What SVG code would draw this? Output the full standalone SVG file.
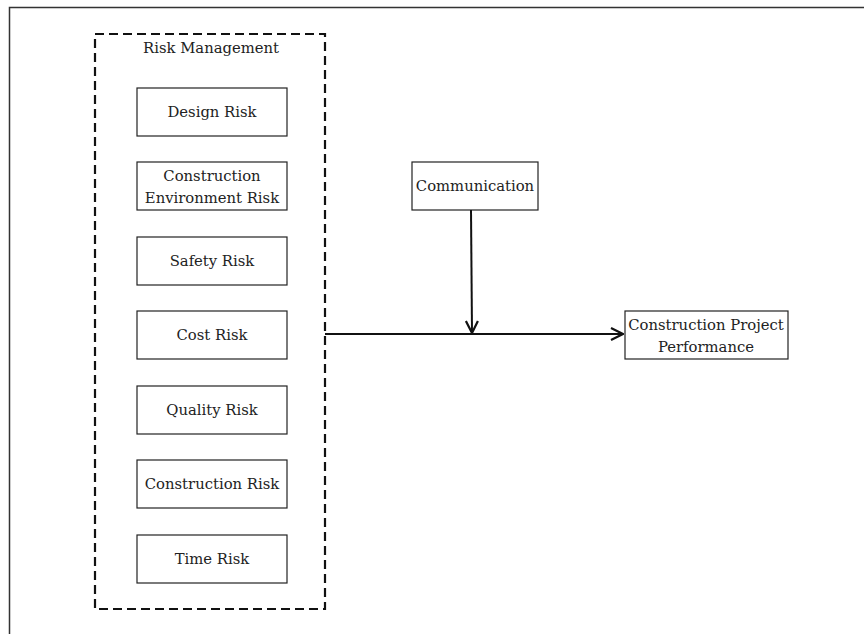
<svg xmlns="http://www.w3.org/2000/svg" width="864" height="634" viewBox="0 0 864 634">
<style>
.box{fill:#fff;stroke:#222;stroke-width:1.2}
.t{font-family:"DejaVu Serif","Liberation Serif",serif;font-size:14.8px;fill:#222;text-anchor:middle}
.c{stroke:#111;stroke-width:2;fill:none}
</style>
<defs>
<marker id="ah" viewBox="0 0 14 14" refX="13" refY="7" markerWidth="14" markerHeight="14" markerUnits="userSpaceOnUse" orient="auto">
<path d="M1,1 L13,7 L1,13" fill="none" stroke="#111" stroke-width="2.2"/>
</marker>
</defs>
<rect width="864" height="634" fill="#fff"/>
<path d="M9.5,640 V7.5 H870" fill="none" stroke="#333" stroke-width="1.5"/>
<g id="risk-management">
<rect x="95" y="34" width="230" height="575" fill="none" stroke="#111" stroke-width="2.2" stroke-dasharray="9,5"/>
<text class="t" x="211" y="53" style="font-weight:500">Risk Management</text>
</g>
<g id="design-risk"><rect class="box" x="137" y="88" width="150" height="48"/><text class="t" x="212" y="117">Design Risk</text></g>
<g id="construction-environment-risk"><rect class="box" x="137" y="162" width="150" height="48"/><text class="t" x="212" y="181">Construction</text><text class="t" x="212" y="203">Environment Risk</text></g>
<g id="safety-risk"><rect class="box" x="137" y="237" width="150" height="48"/><text class="t" x="212" y="266">Safety Risk</text></g>
<g id="cost-risk"><rect class="box" x="137" y="311" width="150" height="48"/><text class="t" x="212" y="340">Cost Risk</text></g>
<g id="quality-risk"><rect class="box" x="137" y="386" width="150" height="48"/><text class="t" x="212" y="415">Quality Risk</text></g>
<g id="construction-risk"><rect class="box" x="137" y="460" width="150" height="48"/><text class="t" x="212" y="489">Construction Risk</text></g>
<g id="time-risk"><rect class="box" x="137" y="535" width="150" height="48"/><text class="t" x="212" y="564">Time Risk</text></g>
<g id="communication"><rect class="box" x="412" y="162" width="126" height="48"/><text class="t" x="475" y="191">Communication</text></g>
<g id="construction-project-performance"><rect class="box" x="625" y="311" width="163" height="48"/><text class="t" x="706" y="330">Construction Project</text><text class="t" x="706" y="352">Performance</text></g>
<g id="connectors">
<path class="c" d="M325,334 H623" marker-end="url(#ah)"/>
<path class="c" d="M471,210 L472,333" marker-end="url(#ah)"/>
</g>
</svg>
